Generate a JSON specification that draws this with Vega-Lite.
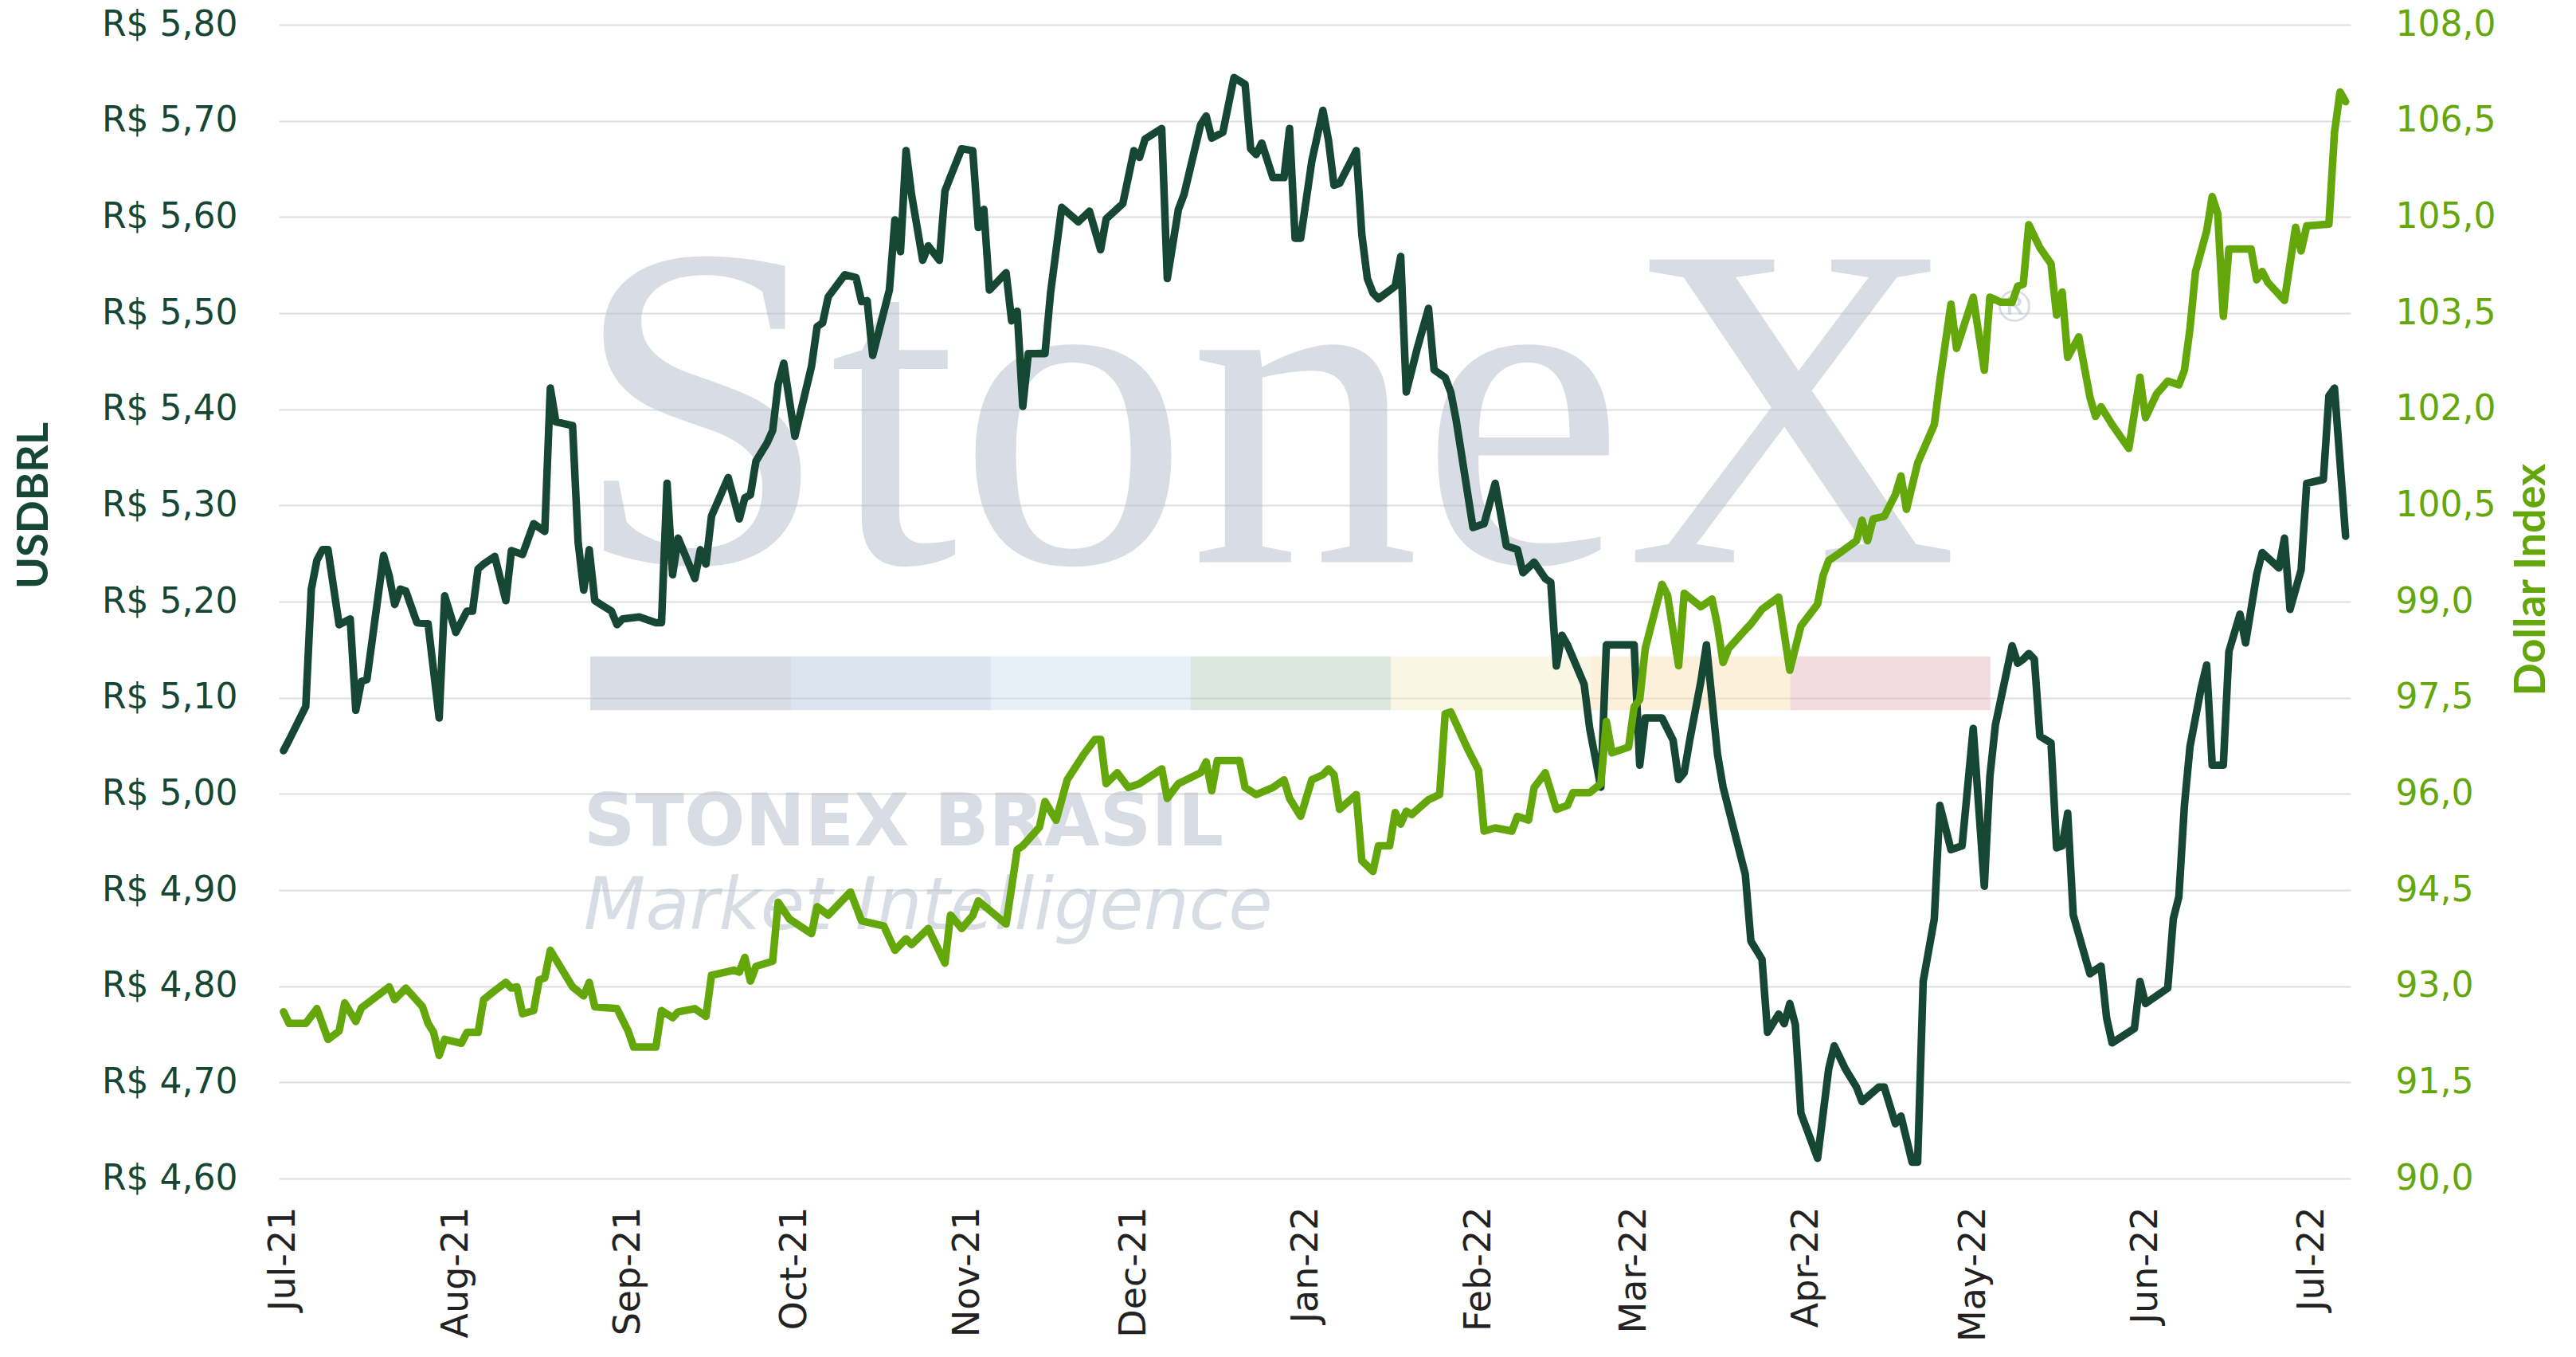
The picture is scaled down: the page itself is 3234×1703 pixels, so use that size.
{
  "$schema": "https://vega.github.io/schema/vega-lite/v6.json",
  "autosize": {"type": "none"},
  "width": 2601,
  "height": 1448,
  "padding": {"left": 350, "top": 31, "right": 283, "bottom": 224},
  "background": "white",
  "config": {
    "view": {"stroke": null},
    "axis": {
      "domain": false,
      "ticks": false,
      "labelFont": "DejaVu Sans",
      "labelFontSize": 44,
      "titleFont": "Lato",
      "titleFontWeight": "bold",
      "titleFontSize": 54,
      "labelOverlap": false,
      "labelFlush": false,
      "labelBound": false
    },
    "axisX": {
      "format": "%b-%y",
      "formatType": "utc",
      "labelLimit": 500,
      "labelAngle": 270,
      "labelAlign": "right",
      "labelBaseline": "middle",
      "labelPadding": 35,
      "labelFontSize": 46,
      "labelColor": "#222222",
      "grid": false
    }
  },
  "datasets": {
    "usdbrl": [
      {"date": "2021-07-01", "value": 5.045}, {"date": "2021-07-02", "value": 5.056}, {"date": "2021-07-05", "value": 5.091},
      {"date": "2021-07-06", "value": 5.213}, {"date": "2021-07-07", "value": 5.243}, {"date": "2021-07-08", "value": 5.254},
      {"date": "2021-07-09", "value": 5.254}, {"date": "2021-07-11", "value": 5.176}, {"date": "2021-07-13", "value": 5.182},
      {"date": "2021-07-14", "value": 5.087}, {"date": "2021-07-15", "value": 5.117}, {"date": "2021-07-16", "value": 5.119},
      {"date": "2021-07-19", "value": 5.248}, {"date": "2021-07-20", "value": 5.227}, {"date": "2021-07-21", "value": 5.197},
      {"date": "2021-07-22", "value": 5.213}, {"date": "2021-07-23", "value": 5.211}, {"date": "2021-07-25", "value": 5.178},
      {"date": "2021-07-27", "value": 5.177}, {"date": "2021-07-29", "value": 5.079}, {"date": "2021-07-30", "value": 5.206},
      {"date": "2021-08-01", "value": 5.168}, {"date": "2021-08-03", "value": 5.190}, {"date": "2021-08-04", "value": 5.190},
      {"date": "2021-08-05", "value": 5.234}, {"date": "2021-08-06", "value": 5.239}, {"date": "2021-08-08", "value": 5.247},
      {"date": "2021-08-10", "value": 5.201}, {"date": "2021-08-11", "value": 5.253}, {"date": "2021-08-13", "value": 5.249},
      {"date": "2021-08-15", "value": 5.281}, {"date": "2021-08-17", "value": 5.273}, {"date": "2021-08-18", "value": 5.422},
      {"date": "2021-08-19", "value": 5.387}, {"date": "2021-08-22", "value": 5.383}, {"date": "2021-08-23", "value": 5.262},
      {"date": "2021-08-24", "value": 5.212}, {"date": "2021-08-25", "value": 5.254}, {"date": "2021-08-26", "value": 5.201},
      {"date": "2021-08-29", "value": 5.190}, {"date": "2021-08-30", "value": 5.176}, {"date": "2021-08-31", "value": 5.182},
      {"date": "2021-09-03", "value": 5.184}, {"date": "2021-09-06", "value": 5.178}, {"date": "2021-09-07", "value": 5.178},
      {"date": "2021-09-08", "value": 5.323}, {"date": "2021-09-09", "value": 5.228}, {"date": "2021-09-10", "value": 5.266},
      {"date": "2021-09-13", "value": 5.224}, {"date": "2021-09-14", "value": 5.254}, {"date": "2021-09-15", "value": 5.239},
      {"date": "2021-09-16", "value": 5.289}, {"date": "2021-09-19", "value": 5.329}, {"date": "2021-09-21", "value": 5.286},
      {"date": "2021-09-22", "value": 5.308}, {"date": "2021-09-23", "value": 5.311}, {"date": "2021-09-24", "value": 5.346},
      {"date": "2021-09-26", "value": 5.365}, {"date": "2021-09-27", "value": 5.378}, {"date": "2021-09-28", "value": 5.426},
      {"date": "2021-09-29", "value": 5.448}, {"date": "2021-10-01", "value": 5.372}, {"date": "2021-10-04", "value": 5.445},
      {"date": "2021-10-05", "value": 5.486}, {"date": "2021-10-06", "value": 5.490}, {"date": "2021-10-07", "value": 5.517},
      {"date": "2021-10-10", "value": 5.540}, {"date": "2021-10-12", "value": 5.537}, {"date": "2021-10-13", "value": 5.512},
      {"date": "2021-10-14", "value": 5.513}, {"date": "2021-10-15", "value": 5.456}, {"date": "2021-10-18", "value": 5.524},
      {"date": "2021-10-19", "value": 5.597}, {"date": "2021-10-20", "value": 5.564}, {"date": "2021-10-21", "value": 5.669},
      {"date": "2021-10-22", "value": 5.623}, {"date": "2021-10-24", "value": 5.555}, {"date": "2021-10-25", "value": 5.570},
      {"date": "2021-10-27", "value": 5.555}, {"date": "2021-10-28", "value": 5.627}, {"date": "2021-10-29", "value": 5.642},
      {"date": "2021-10-31", "value": 5.671}, {"date": "2021-11-02", "value": 5.669}, {"date": "2021-11-03", "value": 5.589},
      {"date": "2021-11-04", "value": 5.608}, {"date": "2021-11-05", "value": 5.524}, {"date": "2021-11-08", "value": 5.542},
      {"date": "2021-11-09", "value": 5.492}, {"date": "2021-11-10", "value": 5.502}, {"date": "2021-11-11", "value": 5.403},
      {"date": "2021-11-12", "value": 5.458}, {"date": "2021-11-15", "value": 5.458}, {"date": "2021-11-16", "value": 5.521},
      {"date": "2021-11-18", "value": 5.610}, {"date": "2021-11-21", "value": 5.595}, {"date": "2021-11-23", "value": 5.606},
      {"date": "2021-11-25", "value": 5.566}, {"date": "2021-11-26", "value": 5.598}, {"date": "2021-11-29", "value": 5.614},
      {"date": "2021-12-01", "value": 5.669}, {"date": "2021-12-02", "value": 5.662}, {"date": "2021-12-03", "value": 5.681},
      {"date": "2021-12-06", "value": 5.692}, {"date": "2021-12-07", "value": 5.536}, {"date": "2021-12-09", "value": 5.608},
      {"date": "2021-12-10", "value": 5.623}, {"date": "2021-12-13", "value": 5.696}, {"date": "2021-12-14", "value": 5.705},
      {"date": "2021-12-15", "value": 5.682}, {"date": "2021-12-17", "value": 5.688}, {"date": "2021-12-19", "value": 5.745},
      {"date": "2021-12-21", "value": 5.738}, {"date": "2021-12-22", "value": 5.671}, {"date": "2021-12-23", "value": 5.665},
      {"date": "2021-12-24", "value": 5.677}, {"date": "2021-12-26", "value": 5.641}, {"date": "2021-12-28", "value": 5.641},
      {"date": "2021-12-29", "value": 5.692}, {"date": "2021-12-30", "value": 5.578}, {"date": "2021-12-31", "value": 5.578},
      {"date": "2022-01-02", "value": 5.658}, {"date": "2022-01-04", "value": 5.711}, {"date": "2022-01-05", "value": 5.680},
      {"date": "2022-01-06", "value": 5.633}, {"date": "2022-01-07", "value": 5.635}, {"date": "2022-01-10", "value": 5.669},
      {"date": "2022-01-11", "value": 5.582}, {"date": "2022-01-12", "value": 5.536}, {"date": "2022-01-13", "value": 5.521},
      {"date": "2022-01-14", "value": 5.515}, {"date": "2022-01-17", "value": 5.528}, {"date": "2022-01-18", "value": 5.559},
      {"date": "2022-01-19", "value": 5.418}, {"date": "2022-01-21", "value": 5.464}, {"date": "2022-01-23", "value": 5.505},
      {"date": "2022-01-24", "value": 5.441}, {"date": "2022-01-26", "value": 5.433}, {"date": "2022-01-27", "value": 5.418},
      {"date": "2022-01-28", "value": 5.388}, {"date": "2022-01-31", "value": 5.277}, {"date": "2022-02-02", "value": 5.281},
      {"date": "2022-02-04", "value": 5.323}, {"date": "2022-02-06", "value": 5.258}, {"date": "2022-02-08", "value": 5.254},
      {"date": "2022-02-09", "value": 5.230}, {"date": "2022-02-11", "value": 5.241}, {"date": "2022-02-13", "value": 5.224},
      {"date": "2022-02-14", "value": 5.220}, {"date": "2022-02-15", "value": 5.133}, {"date": "2022-02-16", "value": 5.165},
      {"date": "2022-02-17", "value": 5.155}, {"date": "2022-02-20", "value": 5.114}, {"date": "2022-02-21", "value": 5.068},
      {"date": "2022-02-23", "value": 5.007}, {"date": "2022-02-24", "value": 5.155}, {"date": "2022-03-01", "value": 5.155},
      {"date": "2022-03-02", "value": 5.030}, {"date": "2022-03-03", "value": 5.079}, {"date": "2022-03-06", "value": 5.079},
      {"date": "2022-03-08", "value": 5.056}, {"date": "2022-03-09", "value": 5.015}, {"date": "2022-03-10", "value": 5.022},
      {"date": "2022-03-11", "value": 5.056}, {"date": "2022-03-13", "value": 5.117}, {"date": "2022-03-14", "value": 5.155},
      {"date": "2022-03-16", "value": 5.041}, {"date": "2022-03-17", "value": 5.007}, {"date": "2022-03-21", "value": 4.916},
      {"date": "2022-03-22", "value": 4.847}, {"date": "2022-03-24", "value": 4.828}, {"date": "2022-03-25", "value": 4.752},
      {"date": "2022-03-27", "value": 4.771}, {"date": "2022-03-28", "value": 4.761}, {"date": "2022-03-29", "value": 4.782},
      {"date": "2022-03-30", "value": 4.760}, {"date": "2022-03-31", "value": 4.668}, {"date": "2022-04-03", "value": 4.621},
      {"date": "2022-04-05", "value": 4.714}, {"date": "2022-04-06", "value": 4.738}, {"date": "2022-04-08", "value": 4.714},
      {"date": "2022-04-10", "value": 4.695}, {"date": "2022-04-11", "value": 4.680}, {"date": "2022-04-14", "value": 4.695},
      {"date": "2022-04-15", "value": 4.695}, {"date": "2022-04-17", "value": 4.657}, {"date": "2022-04-18", "value": 4.665},
      {"date": "2022-04-20", "value": 4.617}, {"date": "2022-04-21", "value": 4.617}, {"date": "2022-04-22", "value": 4.805},
      {"date": "2022-04-24", "value": 4.870}, {"date": "2022-04-25", "value": 4.988}, {"date": "2022-04-27", "value": 4.942},
      {"date": "2022-04-29", "value": 4.946}, {"date": "2022-05-01", "value": 5.068}, {"date": "2022-05-03", "value": 4.904},
      {"date": "2022-05-04", "value": 5.018}, {"date": "2022-05-05", "value": 5.072}, {"date": "2022-05-08", "value": 5.154},
      {"date": "2022-05-09", "value": 5.136}, {"date": "2022-05-10", "value": 5.140}, {"date": "2022-05-11", "value": 5.146},
      {"date": "2022-05-12", "value": 5.140}, {"date": "2022-05-13", "value": 5.060}, {"date": "2022-05-15", "value": 5.053},
      {"date": "2022-05-16", "value": 4.944}, {"date": "2022-05-17", "value": 4.946}, {"date": "2022-05-18", "value": 4.980},
      {"date": "2022-05-19", "value": 4.874}, {"date": "2022-05-22", "value": 4.813}, {"date": "2022-05-24", "value": 4.821},
      {"date": "2022-05-25", "value": 4.767}, {"date": "2022-05-26", "value": 4.741}, {"date": "2022-05-30", "value": 4.756},
      {"date": "2022-05-31", "value": 4.805}, {"date": "2022-06-01", "value": 4.782}, {"date": "2022-06-05", "value": 4.798},
      {"date": "2022-06-06", "value": 4.870}, {"date": "2022-06-07", "value": 4.893}, {"date": "2022-06-08", "value": 4.988},
      {"date": "2022-06-09", "value": 5.049}, {"date": "2022-06-11", "value": 5.110}, {"date": "2022-06-12", "value": 5.134},
      {"date": "2022-06-13", "value": 5.030}, {"date": "2022-06-15", "value": 5.030}, {"date": "2022-06-16", "value": 5.148},
      {"date": "2022-06-18", "value": 5.187}, {"date": "2022-06-19", "value": 5.157}, {"date": "2022-06-21", "value": 5.228},
      {"date": "2022-06-22", "value": 5.251}, {"date": "2022-06-25", "value": 5.235}, {"date": "2022-06-26", "value": 5.266},
      {"date": "2022-06-27", "value": 5.192}, {"date": "2022-06-29", "value": 5.233}, {"date": "2022-06-30", "value": 5.323},
      {"date": "2022-07-03", "value": 5.327}, {"date": "2022-07-04", "value": 5.414}, {"date": "2022-07-05", "value": 5.422},
      {"date": "2022-07-07", "value": 5.268}
    ],
    "dxy": [
      {"date": "2021-07-01", "value": 92.60}, {"date": "2021-07-02", "value": 92.42}, {"date": "2021-07-05", "value": 92.42},
      {"date": "2021-07-07", "value": 92.65}, {"date": "2021-07-09", "value": 92.17}, {"date": "2021-07-11", "value": 92.30},
      {"date": "2021-07-12", "value": 92.74}, {"date": "2021-07-14", "value": 92.45}, {"date": "2021-07-15", "value": 92.66},
      {"date": "2021-07-20", "value": 92.99}, {"date": "2021-07-21", "value": 92.79}, {"date": "2021-07-23", "value": 92.97},
      {"date": "2021-07-26", "value": 92.68}, {"date": "2021-07-27", "value": 92.42}, {"date": "2021-07-28", "value": 92.28},
      {"date": "2021-07-29", "value": 91.92}, {"date": "2021-07-30", "value": 92.17}, {"date": "2021-08-02", "value": 92.11},
      {"date": "2021-08-03", "value": 92.28}, {"date": "2021-08-05", "value": 92.28}, {"date": "2021-08-06", "value": 92.79},
      {"date": "2021-08-08", "value": 92.93}, {"date": "2021-08-10", "value": 93.06}, {"date": "2021-08-11", "value": 92.97},
      {"date": "2021-08-12", "value": 92.99}, {"date": "2021-08-13", "value": 92.57}, {"date": "2021-08-15", "value": 92.62},
      {"date": "2021-08-16", "value": 93.10}, {"date": "2021-08-17", "value": 93.13}, {"date": "2021-08-18", "value": 93.56},
      {"date": "2021-08-22", "value": 92.99}, {"date": "2021-08-24", "value": 92.85}, {"date": "2021-08-25", "value": 93.06},
      {"date": "2021-08-26", "value": 92.68}, {"date": "2021-08-30", "value": 92.65}, {"date": "2021-09-01", "value": 92.30},
      {"date": "2021-09-02", "value": 92.05}, {"date": "2021-09-06", "value": 92.05}, {"date": "2021-09-07", "value": 92.62},
      {"date": "2021-09-09", "value": 92.51}, {"date": "2021-09-10", "value": 92.60}, {"date": "2021-09-13", "value": 92.65},
      {"date": "2021-09-15", "value": 92.53}, {"date": "2021-09-16", "value": 93.17}, {"date": "2021-09-17", "value": 93.19},
      {"date": "2021-09-20", "value": 93.25}, {"date": "2021-09-21", "value": 93.22}, {"date": "2021-09-22", "value": 93.45},
      {"date": "2021-09-23", "value": 93.08}, {"date": "2021-09-24", "value": 93.31}, {"date": "2021-09-27", "value": 93.39},
      {"date": "2021-09-28", "value": 94.31}, {"date": "2021-09-30", "value": 94.05}, {"date": "2021-10-04", "value": 93.82},
      {"date": "2021-10-05", "value": 94.24}, {"date": "2021-10-07", "value": 94.11}, {"date": "2021-10-11", "value": 94.47},
      {"date": "2021-10-13", "value": 94.02}, {"date": "2021-10-17", "value": 93.94}, {"date": "2021-10-19", "value": 93.56},
      {"date": "2021-10-21", "value": 93.74}, {"date": "2021-10-22", "value": 93.65}, {"date": "2021-10-25", "value": 93.90},
      {"date": "2021-10-28", "value": 93.36}, {"date": "2021-10-29", "value": 94.11}, {"date": "2021-10-31", "value": 93.90},
      {"date": "2021-11-02", "value": 94.10}, {"date": "2021-11-03", "value": 94.33}, {"date": "2021-11-08", "value": 93.97},
      {"date": "2021-11-10", "value": 95.13}, {"date": "2021-11-11", "value": 95.19}, {"date": "2021-11-14", "value": 95.48},
      {"date": "2021-11-15", "value": 95.88}, {"date": "2021-11-17", "value": 95.59}, {"date": "2021-11-19", "value": 96.22},
      {"date": "2021-11-22", "value": 96.62}, {"date": "2021-11-24", "value": 96.85}, {"date": "2021-11-25", "value": 96.85},
      {"date": "2021-11-26", "value": 96.16}, {"date": "2021-11-28", "value": 96.33}, {"date": "2021-11-30", "value": 96.10},
      {"date": "2021-12-02", "value": 96.16}, {"date": "2021-12-06", "value": 96.39}, {"date": "2021-12-07", "value": 95.93},
      {"date": "2021-12-09", "value": 96.16}, {"date": "2021-12-13", "value": 96.33}, {"date": "2021-12-14", "value": 96.50},
      {"date": "2021-12-15", "value": 96.05}, {"date": "2021-12-16", "value": 96.52}, {"date": "2021-12-20", "value": 96.52},
      {"date": "2021-12-21", "value": 96.10}, {"date": "2021-12-23", "value": 95.99}, {"date": "2021-12-26", "value": 96.10},
      {"date": "2021-12-28", "value": 96.22}, {"date": "2021-12-29", "value": 95.93}, {"date": "2021-12-31", "value": 95.65},
      {"date": "2022-01-02", "value": 96.22}, {"date": "2022-01-04", "value": 96.30}, {"date": "2022-01-05", "value": 96.39},
      {"date": "2022-01-06", "value": 96.30}, {"date": "2022-01-07", "value": 95.76}, {"date": "2022-01-10", "value": 95.99},
      {"date": "2022-01-11", "value": 94.96}, {"date": "2022-01-13", "value": 94.79}, {"date": "2022-01-14", "value": 95.19},
      {"date": "2022-01-16", "value": 95.19}, {"date": "2022-01-17", "value": 95.71}, {"date": "2022-01-18", "value": 95.53},
      {"date": "2022-01-19", "value": 95.73}, {"date": "2022-01-20", "value": 95.68}, {"date": "2022-01-23", "value": 95.91},
      {"date": "2022-01-25", "value": 95.99}, {"date": "2022-01-26", "value": 97.25}, {"date": "2022-01-27", "value": 97.28},
      {"date": "2022-01-30", "value": 96.71}, {"date": "2022-02-01", "value": 96.37}, {"date": "2022-02-02", "value": 95.42},
      {"date": "2022-02-04", "value": 95.47}, {"date": "2022-02-07", "value": 95.42}, {"date": "2022-02-08", "value": 95.65},
      {"date": "2022-02-10", "value": 95.59}, {"date": "2022-02-11", "value": 96.10}, {"date": "2022-02-13", "value": 96.33},
      {"date": "2022-02-15", "value": 95.76}, {"date": "2022-02-17", "value": 95.82}, {"date": "2022-02-18", "value": 96.02},
      {"date": "2022-02-21", "value": 96.02}, {"date": "2022-02-23", "value": 96.16}, {"date": "2022-02-24", "value": 97.13},
      {"date": "2022-02-25", "value": 96.64}, {"date": "2022-02-28", "value": 96.73}, {"date": "2022-03-01", "value": 97.36},
      {"date": "2022-03-02", "value": 97.47}, {"date": "2022-03-03", "value": 98.27}, {"date": "2022-03-06", "value": 99.27},
      {"date": "2022-03-07", "value": 99.10}, {"date": "2022-03-09", "value": 98.00}, {"date": "2022-03-10", "value": 99.13},
      {"date": "2022-03-13", "value": 98.92}, {"date": "2022-03-15", "value": 99.04}, {"date": "2022-03-16", "value": 98.62},
      {"date": "2022-03-17", "value": 98.05}, {"date": "2022-03-18", "value": 98.27}, {"date": "2022-03-21", "value": 98.56},
      {"date": "2022-03-22", "value": 98.65}, {"date": "2022-03-24", "value": 98.88}, {"date": "2022-03-27", "value": 99.07},
      {"date": "2022-03-29", "value": 97.93}, {"date": "2022-03-31", "value": 98.62}, {"date": "2022-04-03", "value": 98.96},
      {"date": "2022-04-04", "value": 99.41}, {"date": "2022-04-05", "value": 99.64}, {"date": "2022-04-07", "value": 99.76},
      {"date": "2022-04-10", "value": 99.95}, {"date": "2022-04-11", "value": 100.27}, {"date": "2022-04-12", "value": 99.95},
      {"date": "2022-04-13", "value": 100.29}, {"date": "2022-04-15", "value": 100.33}, {"date": "2022-04-17", "value": 100.67},
      {"date": "2022-04-18", "value": 100.96}, {"date": "2022-04-19", "value": 100.44}, {"date": "2022-04-21", "value": 101.16},
      {"date": "2022-04-24", "value": 101.76}, {"date": "2022-04-25", "value": 102.44}, {"date": "2022-04-27", "value": 103.64},
      {"date": "2022-04-28", "value": 102.95}, {"date": "2022-05-01", "value": 103.75}, {"date": "2022-05-03", "value": 102.61},
      {"date": "2022-05-04", "value": 103.75}, {"date": "2022-05-06", "value": 103.67}, {"date": "2022-05-08", "value": 103.67},
      {"date": "2022-05-09", "value": 103.92}, {"date": "2022-05-10", "value": 103.95}, {"date": "2022-05-11", "value": 104.88},
      {"date": "2022-05-13", "value": 104.52}, {"date": "2022-05-15", "value": 104.27}, {"date": "2022-05-16", "value": 103.47},
      {"date": "2022-05-17", "value": 103.83}, {"date": "2022-05-18", "value": 102.81}, {"date": "2022-05-20", "value": 103.13},
      {"date": "2022-05-22", "value": 102.19}, {"date": "2022-05-23", "value": 101.89}, {"date": "2022-05-24", "value": 102.04},
      {"date": "2022-05-26", "value": 101.76}, {"date": "2022-05-29", "value": 101.39}, {"date": "2022-05-31", "value": 102.50},
      {"date": "2022-06-01", "value": 101.87}, {"date": "2022-06-03", "value": 102.24}, {"date": "2022-06-05", "value": 102.44},
      {"date": "2022-06-07", "value": 102.38}, {"date": "2022-06-08", "value": 102.61}, {"date": "2022-06-09", "value": 103.26},
      {"date": "2022-06-10", "value": 104.15}, {"date": "2022-06-12", "value": 104.78}, {"date": "2022-06-13", "value": 105.32},
      {"date": "2022-06-14", "value": 105.05}, {"date": "2022-06-15", "value": 103.45}, {"date": "2022-06-16", "value": 104.50},
      {"date": "2022-06-20", "value": 104.50}, {"date": "2022-06-21", "value": 104.02}, {"date": "2022-06-22", "value": 104.15},
      {"date": "2022-06-23", "value": 103.98}, {"date": "2022-06-26", "value": 103.70}, {"date": "2022-06-28", "value": 104.84},
      {"date": "2022-06-29", "value": 104.47}, {"date": "2022-06-30", "value": 104.86}, {"date": "2022-07-04", "value": 104.89},
      {"date": "2022-07-05", "value": 106.32}, {"date": "2022-07-06", "value": 106.95}, {"date": "2022-07-07", "value": 106.80}
    ]
  },
  "layer": [
    {
      "layer": [
        {
          "data": {"values": [{}]},
          "mark": {"type": "rect", "color": "#b1bbcb", "opacity": 0.5},
          "encoding": {
            "x": {"datum": {"year": 2021, "month": 8, "date": 25, "hours": 5, "utc": true}, "type": "temporal"},
            "x2": {"datum": {"year": 2021, "month": 9, "date": 30, "hours": 7, "utc": true}},
            "y": {"datum": 5.143, "type": "quantitative"},
            "y2": {"datum": 5.087}
          }
        },
        {
          "data": {"values": [{}]},
          "mark": {"type": "rect", "color": "#b9c9db", "opacity": 0.5},
          "encoding": {
            "x": {"datum": {"year": 2021, "month": 9, "date": 30, "hours": 7, "utc": true}, "type": "temporal"},
            "x2": {"datum": {"year": 2021, "month": 11, "date": 5, "hours": 7, "utc": true}},
            "y": {"datum": 5.143, "type": "quantitative"},
            "y2": {"datum": 5.087}
          }
        },
        {
          "data": {"values": [{}]},
          "mark": {"type": "rect", "color": "#d1e1ef", "opacity": 0.5},
          "encoding": {
            "x": {"datum": {"year": 2021, "month": 11, "date": 5, "hours": 7, "utc": true}, "type": "temporal"},
            "x2": {"datum": {"year": 2021, "month": 12, "date": 11, "hours": 5, "utc": true}},
            "y": {"datum": 5.143, "type": "quantitative"},
            "y2": {"datum": 5.087}
          }
        },
        {
          "data": {"values": [{}]},
          "mark": {"type": "rect", "color": "#bbcfc5", "opacity": 0.5},
          "encoding": {
            "x": {"datum": {"year": 2021, "month": 12, "date": 11, "hours": 5, "utc": true}, "type": "temporal"},
            "x2": {"datum": {"year": 2022, "month": 1, "date": 16, "hours": 5, "utc": true}},
            "y": {"datum": 5.143, "type": "quantitative"},
            "y2": {"datum": 5.087}
          }
        },
        {
          "data": {"values": [{}]},
          "mark": {"type": "rect", "color": "#f3edc7", "opacity": 0.5},
          "encoding": {
            "x": {"datum": {"year": 2022, "month": 1, "date": 16, "hours": 5, "utc": true}, "type": "temporal"},
            "x2": {"datum": {"year": 2022, "month": 2, "date": 21, "hours": 5, "utc": true}},
            "y": {"datum": 5.143, "type": "quantitative"},
            "y2": {"datum": 5.087}
          }
        },
        {
          "data": {"values": [{}]},
          "mark": {"type": "rect", "color": "#fbe1b7", "opacity": 0.5},
          "encoding": {
            "x": {"datum": {"year": 2022, "month": 2, "date": 21, "hours": 5, "utc": true}, "type": "temporal"},
            "x2": {"datum": {"year": 2022, "month": 3, "date": 29, "hours": 2, "utc": true}},
            "y": {"datum": 5.143, "type": "quantitative"},
            "y2": {"datum": 5.087}
          }
        },
        {
          "data": {"values": [{}]},
          "mark": {"type": "rect", "color": "#e5b9bf", "opacity": 0.5},
          "encoding": {
            "x": {"datum": {"year": 2022, "month": 3, "date": 29, "hours": 2, "utc": true}, "type": "temporal"},
            "x2": {"datum": {"year": 2022, "month": 5, "date": 4, "hours": 2, "utc": true}},
            "y": {"datum": 5.143, "type": "quantitative"},
            "y2": {"datum": 5.087}
          }
        },
        {
          "data": {"values": [{}]},
          "mark": {"type": "text", "text": "StoneX", "font": "Liberation Serif", "fontSize": 580, "align": "left", "baseline": "alphabetic", "color": "#b3bdcd", "opacity": 0.5},
          "encoding": {
            "x": {"datum": {"year": 2021, "month": 8, "date": 22, "utc": true}, "type": "temporal"},
            "y": {"datum": 5.241, "type": "quantitative"}
          }
        },
        {
          "data": {"values": [{}]},
          "mark": {"type": "text", "text": "®", "font": "DejaVu Sans", "fontSize": 55, "align": "center", "baseline": "middle", "color": "#b3bdcd", "opacity": 0.5},
          "encoding": {
            "x": {"datum": {"year": 2022, "month": 5, "date": 8, "hours": 10, "utc": true}, "type": "temporal"},
            "y": {"datum": 5.505, "type": "quantitative"}
          }
        },
        {
          "data": {"values": [{}]},
          "mark": {"type": "text", "text": "STONEX BRASIL", "font": "DejaVu Sans", "fontWeight": "bold", "fontSize": 90, "align": "left", "baseline": "alphabetic", "color": "#b3bdcd", "opacity": 0.5},
          "encoding": {
            "x": {"datum": {"year": 2021, "month": 8, "date": 24, "utc": true}, "type": "temporal"},
            "y": {"datum": 4.946, "type": "quantitative"}
          }
        },
        {
          "data": {"values": [{}]},
          "mark": {"type": "text", "text": "Market Intelligence", "font": "DejaVu Sans", "fontWeight": 200, "fontStyle": "italic", "fontSize": 90, "align": "left", "baseline": "alphabetic", "color": "#b3bdcd", "opacity": 0.5},
          "encoding": {
            "x": {"datum": {"year": 2021, "month": 8, "date": 24, "utc": true}, "type": "temporal"},
            "y": {"datum": 4.859, "type": "quantitative"}
          }
        },
        {
          "data": {"name": "usdbrl"},
          "mark": {"type": "line", "color": "#154734", "strokeWidth": 9.5, "strokeCap": "round", "strokeJoin": "round"},
          "encoding": {
            "x": {
              "field": "date",
              "type": "temporal",
              "scale": {
                "type": "utc",
                "domain": [
                  {"year": 2021, "month": 6, "date": 30, "hours": 3, "minutes": 30, "utc": true},
                  {"year": 2022, "month": 7, "date": 7, "hours": 21, "minutes": 30, "utc": true}
                ]
              },
              "axis": {
                "orient": "bottom",
                "title": null,
                "tickCount": {"interval": "month", "step": 1},
                "format": "%b-%y",
                "formatType": "utc"
              }
            },
            "y": {
              "field": "value",
              "type": "quantitative",
              "scale": {"domain": [4.6, 5.8], "nice": false, "zero": false},
              "axis": {
                "orient": "left",
                "values": [4.6, 4.7, 4.8, 4.9, 5.0, 5.1, 5.2, 5.3, 5.4, 5.5, 5.6, 5.7, 5.8],
                "labelExpr": "'R$ ' + replace(format(datum.value, '.2f'), '.', ',')",
                "labelColor": "#154734",
                "labelPadding": 52,
                "grid": true,
                "gridColor": "#dedede",
                "gridWidth": 2,
                "title": "USDBRL",
                "titleColor": "#154734",
                "titleAngle": 270,
                "titleX": -307,
                "titleY": 603,
                "titleAlign": "center",
                "titleBaseline": "middle"
              }
            }
          }
        }
      ]
    },
    {
      "data": {"name": "dxy"},
      "mark": {"type": "line", "color": "#64a70b", "strokeWidth": 9.5, "strokeCap": "round", "strokeJoin": "round"},
      "encoding": {
        "x": {"field": "date", "type": "temporal", "scale": {"type": "utc"}},
        "y": {
          "field": "value",
          "type": "quantitative",
          "scale": {"domain": [90, 108], "nice": false, "zero": false},
          "axis": {
            "orient": "right",
            "values": [90, 91.5, 93, 94.5, 96, 97.5, 99, 100.5, 102, 103.5, 105, 106.5, 108],
            "labelExpr": "replace(format(datum.value, '.1f'), '.', ',')",
            "labelColor": "#64a70b",
            "labelPadding": 56,
            "grid": false,
            "title": "Dollar Index",
            "titleColor": "#64a70b",
            "titleAngle": 270,
            "titleX": 227,
            "titleY": 696,
            "titleAlign": "center",
            "titleBaseline": "middle"
          }
        }
      }
    }
  ],
  "resolve": {"scale": {"y": "independent"}}
}
